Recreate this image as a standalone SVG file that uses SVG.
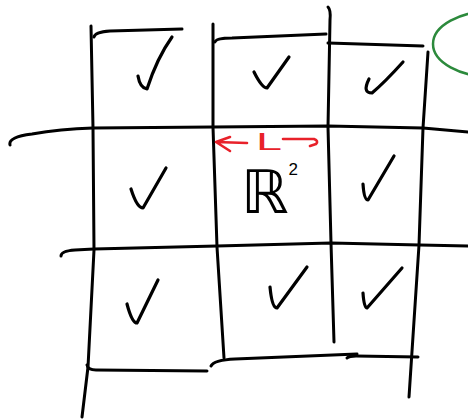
<svg xmlns="http://www.w3.org/2000/svg" width="468" height="419" viewBox="0 0 468 419">
<style>
.ink{fill:none;stroke:#000;stroke-width:3;stroke-linecap:round;stroke-linejoin:round}
.tick{fill:none;stroke:#000;stroke-width:3.2;stroke-linecap:round;stroke-linejoin:round}
.red{fill:none;stroke:#e8212a;stroke-width:2.6;stroke-linecap:round;stroke-linejoin:round}
</style>
<rect width="468" height="419" fill="#fff"/>
<g id="grid">
<path class="ink" d="M91,26 L93,128 L94,250 L88,367 L82,417"/>
<path class="ink" d="M213,24 L213,127 L217,247 L224,358"/>
<path class="ink" d="M328,7 Q331,10 330,20 L328,127 L331,243 L334,342"/>
<path class="ink" d="M428,52 L423,128 L419,245 L409,397"/>
<path class="ink" d="M94,37 Q95,32 110,31 L182,29"/>
<path class="ink" d="M215,42 Q216,38 232,38 L326,34"/>
<path class="ink" d="M328,43 L423,46"/>
<path class="ink" d="M10,145 Q8,137 32,134 Q60,129 93,128 L213,127 L328,126 L423,128 L468,132"/>
<path class="ink" d="M61,256 Q61,251 75,250 L94,249 L217,246 L331,243 L420,245 L468,246"/>
<path class="ink" d="M87,365 Q88,370 96,370 L207,371"/>
<path class="ink" d="M211,366 Q214,360 235,359 L357,354"/>
<path class="ink" d="M347,358 Q349,356 356,356 L418,357"/>
</g>
<g id="ticks">
<path class="tick" d="M138,76 Q140,88 147,89 Q157,58 172,37"/>
<path class="tick" d="M254,72 Q262,88 267,88 L289,57"/>
<path class="tick" d="M369,79 Q362,93 372,93 Q385,82 403,62"/>
<path class="tick" d="M131,189 Q137,208 143,208 L166,168"/>
<path class="tick" d="M363,184 Q364,200 368,200 L394,156"/>
<path class="tick" d="M127,304 Q132,323 137,323 L158,280"/>
<path class="tick" d="M270,287 Q272,308 277,308 L307,267"/>
<path class="tick" d="M363,293 Q364,308 367,308 L402,268"/>
</g>
<g id="label-L">
<path class="red" d="M247,143 L216,142 M230,137 L216,142 L230,151"/>
<path class="red" d="M283,139 L314,139 Q319,141 316,144 L310,146"/>
<text x="256" y="150" font-family="Liberation Sans, sans-serif" font-size="23" fill="#e8212a" textLength="26" lengthAdjust="spacingAndGlyphs">L</text>
</g>
<g id="label-R2">
<text x="241" y="213" font-family="DejaVu Sans, sans-serif" font-size="60" fill="#000">ℝ<tspan dx="0" dy="-38" font-family="Liberation Sans, sans-serif" font-size="17">2</tspan></text>
</g>
<ellipse id="green-oval" cx="493" cy="44" rx="60" ry="33" fill="none" stroke="#2c8a3c" stroke-width="2.5"/>
</svg>
